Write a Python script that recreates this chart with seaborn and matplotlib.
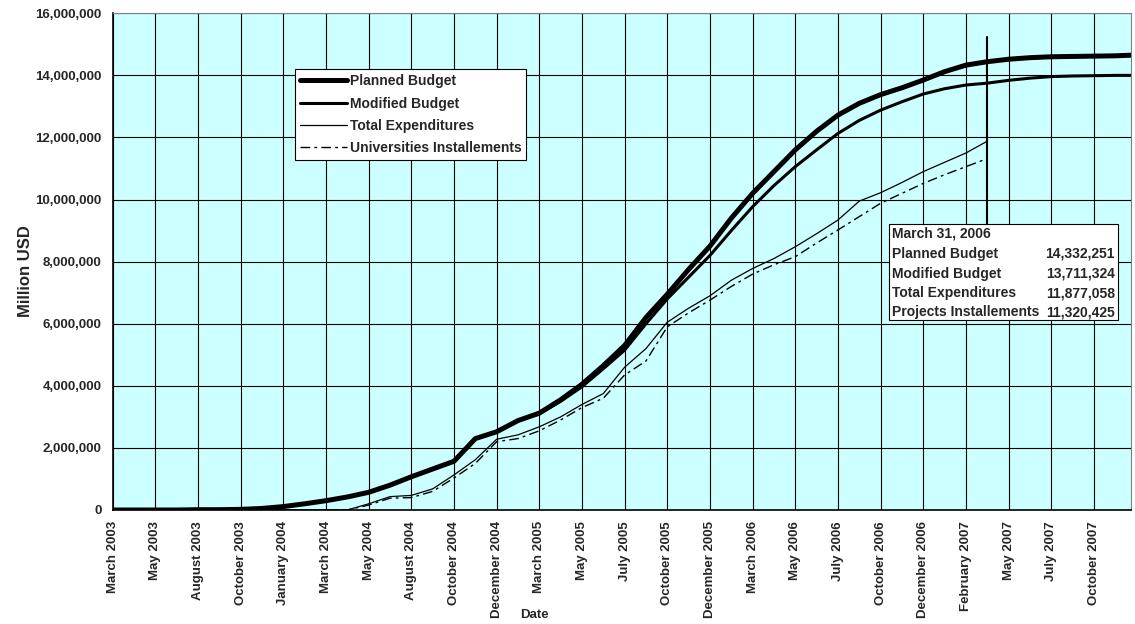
import numpy as np
import matplotlib
matplotlib.use("Agg")
import matplotlib.pyplot as plt
import matplotlib.ticker as mticker
import pandas as pd
import seaborn as sns

# Tick labels of the category axis (one per grid column)
tick_labels = ["March 2003", "May 2003", "August 2003", "October 2003", "January 2004",
               "March 2004", "May 2004", "August 2004", "October 2004", "December 2004",
               "March 2005", "May 2005", "July 2005", "October 2005", "December 2005",
               "March 2006", "May 2006", "July 2006", "October 2006", "December 2006",
               "February 2007", "May 2007", "July 2007", "October 2007"]

# Position along the category axis (in tick units), read every half column
pos = list(np.arange(0, 24, 0.5)) + [23.87]

# Values in million USD
planned = [0, 0, 0, 0, 0.01, 0.01, 0.02, 0.05, 0.11, 0.2,
           0.3, 0.42, 0.57, 0.8, 1.07, 1.32, 1.57, 2.3, 2.52, 2.88,
           3.12, 3.55, 4.05, 4.65, 5.3, 6.2, 6.95, 7.75, 8.5, 9.4,
           10.2, 10.9, 11.6, 12.2, 12.72, 13.1, 13.38, 13.6, 13.85, 14.12,
           14.33, 14.44, 14.52, 14.57, 14.6, 14.61, 14.62, 14.63, 14.65]
modified = [0, 0, 0, 0, 0.01, 0.01, 0.02, 0.05, 0.11, 0.2,
            0.3, 0.42, 0.57, 0.8, 1.07, 1.32, 1.57, 2.3, 2.52, 2.88,
            3.1, 3.5, 3.97, 4.55, 5.15, 6.0, 6.8, 7.5, 8.2, 9.0,
            9.77, 10.45, 11.06, 11.6, 12.13, 12.55, 12.88, 13.15, 13.4, 13.57,
            13.69, 13.75, 13.84, 13.91, 13.96, 13.98, 13.99, 14.0, 14.0]
total_exp = [0] * 12 + [0.2, 0.43, 0.47, 0.68, 1.13, 1.62, 2.28, 2.42,
             2.68, 3.0, 3.4, 3.75, 4.6, 5.2, 6.05, 6.5, 6.9, 7.4,
             7.78, 8.1, 8.48, 8.9, 9.34, 9.95, 10.22, 10.55, 10.9, 11.2,
             11.5, 11.88] + [np.nan] * 7
univ_inst = [0] * 12 + [0.16, 0.38, 0.4, 0.6, 1.03, 1.5, 2.2, 2.3,
             2.55, 2.9, 3.3, 3.6, 4.35, 4.8, 5.9, 6.35, 6.76, 7.2,
             7.6, 7.9, 8.16, 8.6, 9.02, 9.45, 9.88, 10.2, 10.52, 10.8,
             11.06, 11.32] + [np.nan] * 7

# Annotation
ann_pos = 20.5
ann_title = "March 31, 2006"
ann_names = ["Planned Budget", "Modified Budget", "Total Expenditures", "Projects Installements"]
ann_values = ["14,332,251", "13,711,324", "11,877,058", "11,320,425"]

df = pd.DataFrame({"pos": pos,
                   "planned": np.array(planned) * 1e6,
                   "modified": np.array(modified) * 1e6,
                   "total": np.array(total_exp) * 1e6,
                   "univ": np.array(univ_inst) * 1e6})

sns.set_style("white")
plt.rcParams["font.family"] = ["Liberation Sans", "DejaVu Sans"]
plt.rcParams["font.weight"] = "bold"

fig = plt.figure(figsize=(11.35, 6.24), dpi=100)
ax = fig.add_axes([0.0993, 0.1827, 0.8972, 0.796])
ax.set_facecolor("#CCFFFF")

sns.lineplot(data=df, x="pos", y="planned", ax=ax, color="black", lw=3.6, label="Planned Budget")
sns.lineplot(data=df, x="pos", y="modified", ax=ax, color="black", lw=2.2, label="Modified Budget")
sns.lineplot(data=df, x="pos", y="total", ax=ax, color="black", lw=0.9, label="Total Expenditures")
sns.lineplot(data=df, x="pos", y="univ", ax=ax, color="black", lw=1.0,
             ls=(0, (7, 3, 2, 3)), label="Universities Installements")

ax.set_xlim(0, 23.87)
ax.set_ylim(0, 16e6)
ax.set_xticks(range(len(tick_labels)))
ax.set_xticklabels(tick_labels, rotation=90, fontsize=9.5, fontweight="bold")
ax.set_yticks(np.arange(0, 16e6 + 1, 2e6))
ax.yaxis.set_major_formatter(mticker.FuncFormatter(lambda v, p: f"{v:,.0f}"))
for lab in ax.get_yticklabels():
    lab.set_fontsize(9.5)
    lab.set_fontweight("bold")
ax.tick_params(axis="both", direction="out", length=5, width=1, color="black", pad=3)

ax.grid(True, color="black", lw=0.8)
ax.set_axisbelow(True)
for side in ["top", "right"]:
    ax.spines[side].set_color("#808080")
for side in ["left", "bottom"]:
    ax.spines[side].set_color("black")
    ax.spines[side].set_linewidth(1.2)

ax.set_xlabel("Date", fontsize=9.5, fontweight="bold", va="center")
ax.xaxis.set_label_coords(0.4137, -0.211)
ax.set_ylabel("Million USD", fontsize=12, fontweight="bold", va="center")
ax.yaxis.set_label_coords(-0.086, 0.481)

leg = ax.legend(loc="upper left", bbox_to_anchor=(0.179, 0.887), borderaxespad=0,
                frameon=True, fancybox=False, framealpha=1, edgecolor="black",
                prop={"size": 10, "weight": "bold"}, handlelength=3.4,
                handletextpad=0.2, labelspacing=0.6, borderpad=0.35)
leg.get_frame().set_linewidth(0.8)

# Annotation line and value box
ax.plot([ann_pos, ann_pos], [9.2e6, 15.25e6], color="black", lw=1.5)
box = plt.Rectangle((0.7624, 0.382), 0.2248, 0.1935, transform=ax.transAxes,
                    facecolor="white", edgecolor="black", lw=0.8, zorder=5)
ax.add_patch(box)
line_y = [0.557, 0.516, 0.476, 0.436, 0.398]
ax.text(0.7655, line_y[0], ann_title, transform=ax.transAxes, fontsize=10,
        fontweight="bold", va="center", ha="left", zorder=6)
for name, val, yy in zip(ann_names, ann_values, line_y[1:]):
    ax.text(0.7655, yy, name, transform=ax.transAxes, fontsize=10,
            fontweight="bold", va="center", ha="left", zorder=6)
    ax.text(0.9843, yy, val, transform=ax.transAxes, fontsize=10,
            fontweight="bold", va="center", ha="right", zorder=6)

fig.savefig("out.png", dpi=100)
